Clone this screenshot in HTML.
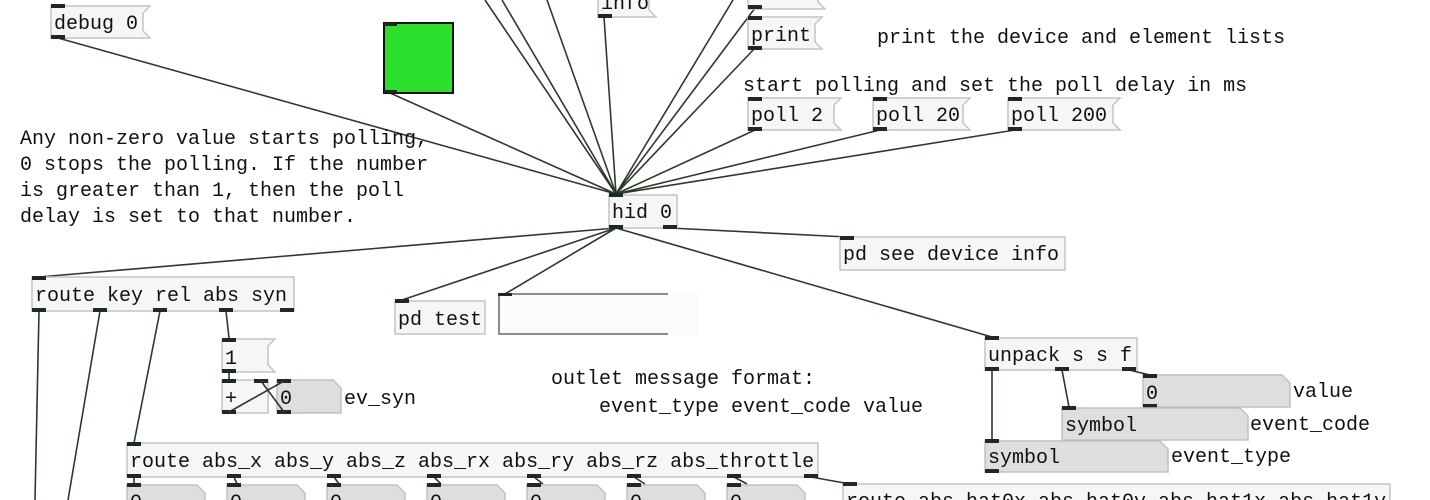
<!DOCTYPE html>
<html><head><meta charset="utf-8"><style>
html,body{margin:0;padding:0;background:#fff;width:1430px;height:500px;overflow:hidden}
svg{display:block}
text{font-family:"Liberation Mono","DejaVu Sans Mono",monospace;font-size:20px;fill:#111}
.b{fill:#f6f6f6;stroke:#c4c4c4;stroke-width:1.5}
.n{fill:#dedede;stroke:#c0c0c0;stroke-width:1.5}
.w{stroke:#2c3a2c;stroke-width:1.6;fill:none}
.io{fill:#1e2a1e}
</style></head><body>
<svg width="1430" height="500" viewBox="0 0 1430 500" xmlns="http://www.w3.org/2000/svg">
<g class="w">
<line x1="58" y1="38" x2="616" y2="194"/>
<line x1="390" y1="93" x2="616" y2="194"/>
<line x1="485" y1="0" x2="616" y2="194"/>
<line x1="502" y1="0" x2="616" y2="194"/>
<line x1="547" y1="0" x2="616" y2="194"/>
<line x1="604" y1="17" x2="616" y2="194"/>
<line x1="733" y1="0" x2="616" y2="194"/>
<line x1="755" y1="8" x2="616" y2="194"/>
<line x1="755" y1="48" x2="616" y2="194"/>
<line x1="755" y1="130" x2="616" y2="194"/>
<line x1="880" y1="130" x2="616" y2="194"/>
<line x1="1015" y1="130" x2="616" y2="194"/>
<line x1="616" y1="228" x2="39" y2="277"/>
<line x1="616" y1="228" x2="402" y2="300"/>
<line x1="616" y1="228" x2="505" y2="294"/>
<line x1="616" y1="228" x2="992" y2="337"/>
<line x1="670" y1="228" x2="847" y2="237"/>
<line x1="39" y1="311" x2="35" y2="500"/>
<line x1="100" y1="311" x2="68" y2="500"/>
<line x1="160" y1="311" x2="134" y2="443"/>
<line x1="226" y1="311" x2="229" y2="338"/>
<line x1="229" y1="372" x2="229" y2="380"/>
<line x1="992" y1="370" x2="992" y2="440"/>
<line x1="1062" y1="370" x2="1069" y2="407"/>
<line x1="1129" y1="370" x2="1150" y2="375"/>
<line x1="134" y1="477" x2="134" y2="484"/>
<line x1="234" y1="477" x2="237" y2="484"/>
<line x1="334" y1="477" x2="339" y2="484"/>
<line x1="434" y1="477" x2="441" y2="484"/>
<line x1="534" y1="477" x2="543" y2="484"/>
<line x1="634" y1="477" x2="645" y2="484"/>
<line x1="734" y1="477" x2="747" y2="484"/>
<line x1="811" y1="477" x2="850" y2="484"/>
</g>

<rect x="384" y="23" width="69" height="70" fill="#2ee02e" stroke="#111" stroke-width="2"/>
<rect x="384" y="23" width="13" height="3" class="io"/>
<rect x="384" y="90" width="13" height="3" class="io"/>

<polygon class="b" points="51,6 150,6 143,13 143,31 150,38 51,38"/>
<text x="54" y="29">debug 0</text>
<rect class="io" x="51" y="4" width="14" height="4"/><rect class="io" x="51" y="35" width="14" height="4"/>

<polygon class="b" points="598,-14 656,-14 649,-7 649,10 656,17 598,17"/>
<text x="601" y="9">info</text>
<rect class="io" x="598" y="14" width="14" height="4"/>

<polygon class="b" points="748,-24 825,-24 818,-17 818,2 825,9 748,9"/>
<rect class="io" x="748" y="5" width="14" height="4"/>
<text x="877" y="0">close the device</text>

<polygon class="b" points="748,17 822,17 815,24 815,42 822,49 748,49"/>
<text x="751" y="41">print</text>
<rect class="io" x="748" y="16" width="14" height="4"/><rect class="io" x="748" y="46" width="14" height="4"/>
<text x="877" y="43">print the device and element lists</text>

<text x="743" y="91">start polling and set the poll delay in ms</text>
<polygon class="b" points="748,98 841,98 834,105 834,123 841,130 748,130"/>
<text x="751" y="121">poll 2</text>
<rect class="io" x="748" y="97" width="14" height="4"/><rect class="io" x="748" y="127" width="14" height="4"/>
<polygon class="b" points="873,98 970,98 963,105 963,123 970,130 873,130"/>
<text x="876" y="121">poll 20</text>
<rect class="io" x="873" y="97" width="14" height="4"/><rect class="io" x="873" y="127" width="14" height="4"/>
<polygon class="b" points="1008,98 1120,98 1113,105 1113,123 1120,130 1008,130"/>
<text x="1011" y="121">poll 200</text>
<rect class="io" x="1008" y="97" width="14" height="4"/><rect class="io" x="1008" y="127" width="14" height="4"/>

<text x="20" y="144">Any non-zero value starts polling,</text>
<text x="20" y="170">0 stops the polling. If the number</text>
<text x="20" y="196">is greater than 1, then the poll</text>
<text x="20" y="222">delay is set to that number.</text>

<rect class="b" x="609" y="195" width="68" height="33"/>
<text x="612" y="218">hid 0</text>
<rect class="io" x="609" y="193" width="14" height="4"/><rect class="io" x="609" y="225" width="14" height="4"/><rect class="io" x="663" y="225" width="14" height="4"/>

<rect class="b" x="840" y="237" width="225" height="33"/>
<text x="843" y="260">pd see device info</text>
<rect class="io" x="840" y="236" width="14" height="4"/>

<rect class="b" x="32" y="277" width="262" height="34"/>
<text x="35" y="301">route key rel abs syn</text>
<rect class="io" x="32" y="276" width="14" height="4"/>
<rect class="io" x="32" y="308" width="14" height="4"/><rect class="io" x="93" y="308" width="14" height="4"/><rect class="io" x="153" y="308" width="14" height="4"/><rect class="io" x="219" y="308" width="14" height="4"/><rect class="io" x="280" y="308" width="14" height="4"/>

<rect class="b" x="395" y="301" width="90" height="33"/>
<text x="398" y="325">pd test</text>
<rect class="io" x="395" y="299" width="14" height="4"/>

<rect x="498" y="294" width="200" height="40" fill="#fbfbfb"/>
<polyline points="668,294 499,294 499,334 668,334" fill="none" stroke="#666" stroke-width="1.5"/>
<rect class="io" x="498" y="293" width="14" height="3"/>

<polygon class="b" points="222,339 275,339 268,346 268,365 275,372 222,372"/>
<text x="225" y="364">1</text>
<rect class="io" x="222" y="338" width="14" height="4"/><rect class="io" x="222" y="369" width="14" height="4"/>

<rect class="b" x="222" y="380" width="46" height="33"/>
<text x="225" y="404">+</text>
<rect class="io" x="222" y="379" width="14" height="4"/><rect class="io" x="254" y="379" width="14" height="4"/><rect class="io" x="222" y="410" width="14" height="4"/>
<polygon class="n" points="277,380 333,380 341,388 341,413 277,413"/>
<text x="280" y="404">0</text>
<rect class="io" x="277" y="379" width="14" height="4"/><rect class="io" x="277" y="410" width="14" height="4"/>
<text x="344" y="404">ev_syn</text>
<g class="w">
<line x1="229" y1="412" x2="284" y2="381"/>
<line x1="284" y1="412" x2="261" y2="381"/>
</g>

<text x="551" y="384">outlet message format:</text>
<text x="599" y="412">event_type event_code value</text>

<rect class="b" x="985" y="338" width="152" height="32"/>
<text x="988" y="361">unpack s s f</text>
<rect class="io" x="985" y="336" width="14" height="4"/>
<rect class="io" x="985" y="367" width="14" height="4"/><rect class="io" x="1055" y="367" width="14" height="4"/><rect class="io" x="1122" y="367" width="14" height="4"/>

<polygon class="n" points="1143,375 1282,375 1290,383 1290,407 1143,407"/>
<text x="1146" y="399">0</text>
<rect class="io" x="1143" y="374" width="14" height="4"/><rect class="io" x="1143" y="404" width="14" height="4"/>
<text x="1293" y="397">value</text>

<polygon class="n" points="1062,408 1240,408 1248,416 1248,440 1062,440"/>
<text x="1065" y="431">symbol</text>
<rect class="io" x="1062" y="406" width="14" height="4"/>
<text x="1250" y="430">event_code</text>

<polygon class="n" points="985,441 1160,441 1168,449 1168,472 985,472"/>
<text x="988" y="463">symbol</text>
<rect class="io" x="985" y="439" width="14" height="4"/><rect class="io" x="985" y="469" width="14" height="4"/>
<text x="1171" y="462">event_type</text>

<rect class="b" x="127" y="443" width="691" height="34"/>
<text x="130" y="467">route abs_x abs_y abs_z abs_rx abs_ry abs_rz abs_throttle</text>
<rect class="io" x="127" y="442" width="14" height="4"/>
<rect class="io" x="127" y="474" width="14" height="4"/><rect class="io" x="227" y="474" width="14" height="4"/><rect class="io" x="327" y="474" width="14" height="4"/><rect class="io" x="427" y="474" width="14" height="4"/><rect class="io" x="527" y="474" width="14" height="4"/><rect class="io" x="627" y="474" width="14" height="4"/><rect class="io" x="727" y="474" width="14" height="4"/><rect class="io" x="804" y="474" width="14" height="4"/>

<g>
<polygon class="n" points="127,485 197,485 205,493 205,520 127,520"/><rect class="io" x="127" y="483" width="14" height="4"/><text x="130" y="508">0</text>
<polygon class="n" points="227,485 297,485 305,493 305,520 227,520"/><rect class="io" x="227" y="483" width="14" height="4"/><text x="230" y="508">0</text>
<polygon class="n" points="327,485 397,485 405,493 405,520 327,520"/><rect class="io" x="327" y="483" width="14" height="4"/><text x="330" y="508">0</text>
<polygon class="n" points="427,485 497,485 505,493 505,520 427,520"/><rect class="io" x="427" y="483" width="14" height="4"/><text x="430" y="508">0</text>
<polygon class="n" points="527,485 597,485 605,493 605,520 527,520"/><rect class="io" x="527" y="483" width="14" height="4"/><text x="530" y="508">0</text>
<polygon class="n" points="627,485 697,485 705,493 705,520 627,520"/><rect class="io" x="627" y="483" width="14" height="4"/><text x="630" y="508">0</text>
<polygon class="n" points="727,485 797,485 805,493 805,520 727,520"/><rect class="io" x="727" y="483" width="14" height="4"/><text x="730" y="508">0</text>
</g>

<rect class="b" x="843" y="484" width="547" height="34"/>
<rect class="io" x="843" y="482" width="14" height="4"/>
<text x="846" y="507">route abs_hat0x abs_hat0y abs_hat1x abs_hat1y</text>
</svg>
</body></html>
